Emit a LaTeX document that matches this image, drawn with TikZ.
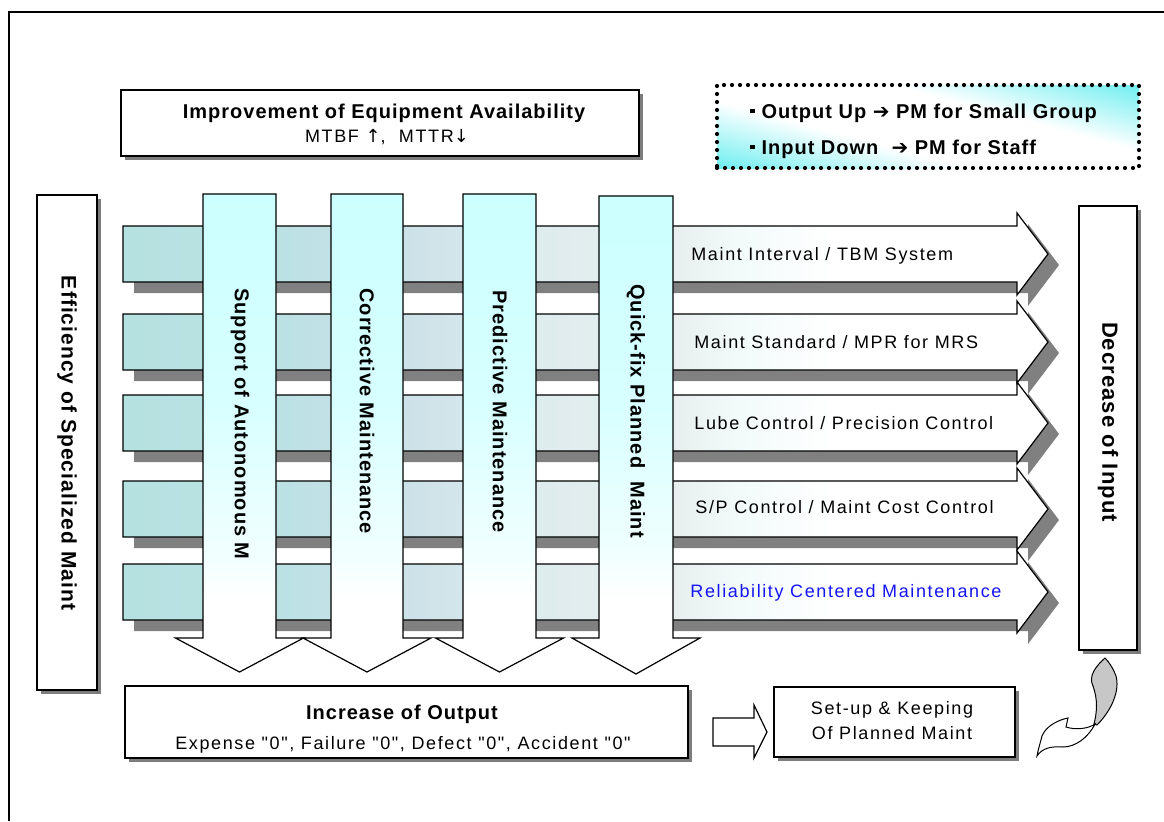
\documentclass[tikz,border=0pt]{standalone}
\usepackage{fontspec}
\usetikzlibrary{shadows}
\setmainfont{Liberation Sans}
\newfontfamily\regfont{Liberation Sans}[LetterSpace=9]
\newfontfamily\boldfont{Liberation Sans}[LetterSpace=5]
\newfontfamily\symfont{DejaVu Sans}
\newfontfamily\symbfont{DejaVu Sans Bold}
\newcommand\sqbullet{\rule[2.3pt]{2.3pt}{2.3pt}}

% colours
\definecolor{shadowgray}{RGB}{128,128,128}
\definecolor{boxshadow}{RGB}{125,125,125}
\definecolor{rA}{RGB}{182,225,225}
\definecolor{rB}{RGB}{186,225,227}
\definecolor{rC}{RGB}{203,225,232}
\definecolor{rD}{RGB}{222,236,238}
\definecolor{rE}{RGB}{232,238,238}
\definecolor{rF}{RGB}{242,250,250}
\definecolor{cA}{RGB}{204,255,255}
\definecolor{cB}{RGB}{215,255,255}
\definecolor{cC}{RGB}{240,255,255}
\definecolor{nA}{RGB}{110,238,240}
\definecolor{rcmblue}{RGB}{20,20,245}

% fill of the horizontal arrows: teal on the left, fading to white
\pgfdeclarehorizontalshading{rowshade}{100bp}{color(0bp)=(rA); color(25bp)=(rA);
  color(33bp)=(rB); color(40bp)=(rC); color(47.3bp)=(rD); color(54.7bp)=(rE);
  color(58.2bp)=(rF); color(63.3bp)=(white); color(100bp)=(white)}
% fill of the downward arrows: light cyan at the top, white at the bottom
\pgfdeclareverticalshading{colshade}{100bp}{color(0bp)=(white); color(32.5bp)=(white);
  color(37.8bp)=(cC); color(53.5bp)=(cB); color(75bp)=(cA); color(100bp)=(cA)}
% diagonal cyan band for the note box
\pgfdeclareverticalshading{noteshade}{100bp}{color(0bp)=(nA); color(38.7bp)=(nA);
  color(46.4bp)=(white); color(53.6bp)=(white); color(61.3bp)=(nA); color(100bp)=(nA)}

\tikzset{
  txtbox/.style={draw=black, line width=0.8pt, fill=white, inner sep=0pt,
    drop shadow={shadow xshift=2pt, shadow yshift=-2pt, fill=boxshadow, opacity=1}},
  rowarrow/.style={draw=black, line width=0.6pt, shading=rowshade},
  colarrow/.style={draw=black, line width=0.6pt, shading=colshade},
  regtxt/.style={font=\regfont\fontsize{9}{11}\selectfont, inner sep=0pt},
  boldtxt/.style={font=\boldfont\bfseries\fontsize{10}{12}\selectfont, inner sep=0pt},
  sidetxt/.style={font=\boldfont\bfseries\fontsize{10.5}{12}\selectfont, inner sep=0pt, rotate=-90},
}

\begin{document}
\begin{tikzpicture}[x=0.5pt,y=-0.5pt]
\useasboundingbox (0,0) rectangle (1164,821);
\fill[white] (0,0) rectangle (1164,821);
% outer frame
\draw[line width=1.2pt] (9,821) -- (9,12) -- (1164,12);

% top box
\node[txtbox, minimum width=259pt, minimum height=33pt] (avail) at (380,123) {};
\node[boldtxt, anchor=base] (availA) at (384,118) {Improvement of Equipment Availability};
\node[regtxt, anchor=base] (availB) at (387,142) {MTBF {\symfont↑},\ \ MTTR{\symfont↓}};

% note box
\begin{scope}
  \clip (717,85) rectangle (1139,168);
  \shade[shading=noteshade, shading angle=-15] (717,-85) rectangle (1139,337);
\end{scope}
\node[draw=black, line width=2.1pt, dash pattern=on 0pt off 4pt, line cap=round,
      minimum width=211pt, minimum height=41.5pt, inner sep=0pt] (note) at (928,126.5) {};
\node[boldtxt, anchor=base west] (noteA) at (750,118) {\sqbullet\ Output Up {\symbfont➔} PM for Small Group};
\node[boldtxt, anchor=base west] (noteB) at (750,154) {\sqbullet\ Input Down\ \ {\symbfont➔} PM for Staff};

% side boxes
\node[txtbox, minimum width=30pt, minimum height=247.5pt] (eff) at (67,442.5) {};
\node[sidetxt] (effT) at (67,443) {Efficiency of Specialized Maint};
\node[txtbox, minimum width=29pt, minimum height=222pt] (dec) at (1108,428) {};
\node[sidetxt, font=\boldfont\bfseries\fontsize{11}{12}\selectfont] (decT) at (1108,422) {Decrease of Input};

% horizontal arrows with their shadows
\foreach \t in {226,314,395,481,564}{
  \pgfmathsetmacro\c{\t+28}
  \pgfmathsetmacro\b{\t+56}
  \fill[shadowgray, shift={(11,11)}] (123,\t) -- (1017,\t) -- (1017,\c-41) -- (1048,\c)
    -- (1017,\c+41) -- (1017,\b) -- (123,\b) -- cycle;
  \shade[rowarrow] (123,\t) -- (1017,\t) -- (1017,\c-41) -- (1048,\c)
    -- (1017,\c+41) -- (1017,\b) -- (123,\b) -- cycle;
}

% downward arrows
\foreach \l/\r/\tp/\tip in {203/276/194/672, 331/403/194/672, 463/536/194/672, 599/673/196/674}{
  \pgfmathsetmacro\cx{(\l+\r)/2}
  \shade[colarrow] (\l,\tp) -- (\r,\tp) -- (\r,638) -- (\cx+64,638) -- (\cx,\tip)
    -- (\cx-64,638) -- (\l,638) -- cycle;
}

% labels of the downward arrows
\node[boldtxt, rotate=-90, anchor=west] (colA) at (240,288) {Support of Autonomous M};
\node[boldtxt, rotate=-90, anchor=west] (colB) at (367,288) {Corrective Maintenance};
\node[boldtxt, rotate=-90, anchor=west] (colC) at (500,290) {Predictive Maintenance};
\node[boldtxt, rotate=-90, anchor=west] (colD) at (636,284) {Quick-fix Planned\ \ Maint};

% labels of the horizontal arrows
\node[regtxt, anchor=base west] (rowA) at (691,260) {Maint Interval / TBM System};
\node[regtxt, anchor=base west] (rowB) at (694,348) {Maint Standard / MPR for MRS};
\node[regtxt, anchor=base west] (rowC) at (694,429) {Lube Control / Precision Control};
\node[regtxt, anchor=base west] (rowD) at (695,513) {S/P Control / Maint Cost Control};
\node[regtxt, anchor=base west, text=rcmblue] (rowE) at (690,597) {Reliability Centered Maintenance};

% bottom boxes
\node[txtbox, minimum width=281.5pt, minimum height=36pt] (out) at (406.5,722) {};
\node[boldtxt, anchor=base] (outA) at (402,719) {Increase of Output};
\node[regtxt, anchor=base] (outB) at (403,749) {Expense "0", Failure "0", Defect "0", Accident "0"};

\draw[line width=0.6pt, fill=white] (713,718) -- (754,718) -- (754,705) -- (767,732)
  -- (754,758) -- (754,746) -- (713,746) -- cycle;

\node[txtbox, minimum width=120.5pt, minimum height=35pt] (plan) at (894.5,722) {};
\node[regtxt, anchor=base] (planA) at (892,714) {Set-up \& Keeping};
\node[regtxt, anchor=base] (planB) at (892,739) {Of Planned Maint};

% curved return arrow under the right box
\filldraw[fill=black!22, draw=black, line width=0.5pt]
  (1105,658) .. controls (1096,666) and (1088,676) .. (1093,686)
  .. controls (1098,700) and (1097,712) .. (1094,724) -- (1097,725)
  .. controls (1112,710) and (1120,690) .. (1116,676)
  .. controls (1113,668) and (1109,662) .. (1105,658) -- cycle;
\filldraw[fill=white, draw=black, line width=0.5pt]
  (1095,724) .. controls (1088,729) and (1075,730) .. (1066,727) -- (1068,718)
  .. controls (1058,720) and (1046,726) .. (1042,736)
  .. controls (1040,744) and (1038,750) .. (1037,756)
  .. controls (1042,748) and (1052,746) .. (1063,747)
  .. controls (1075,747) and (1088,738) .. (1095,724) -- cycle;
\end{tikzpicture}
\end{document}
